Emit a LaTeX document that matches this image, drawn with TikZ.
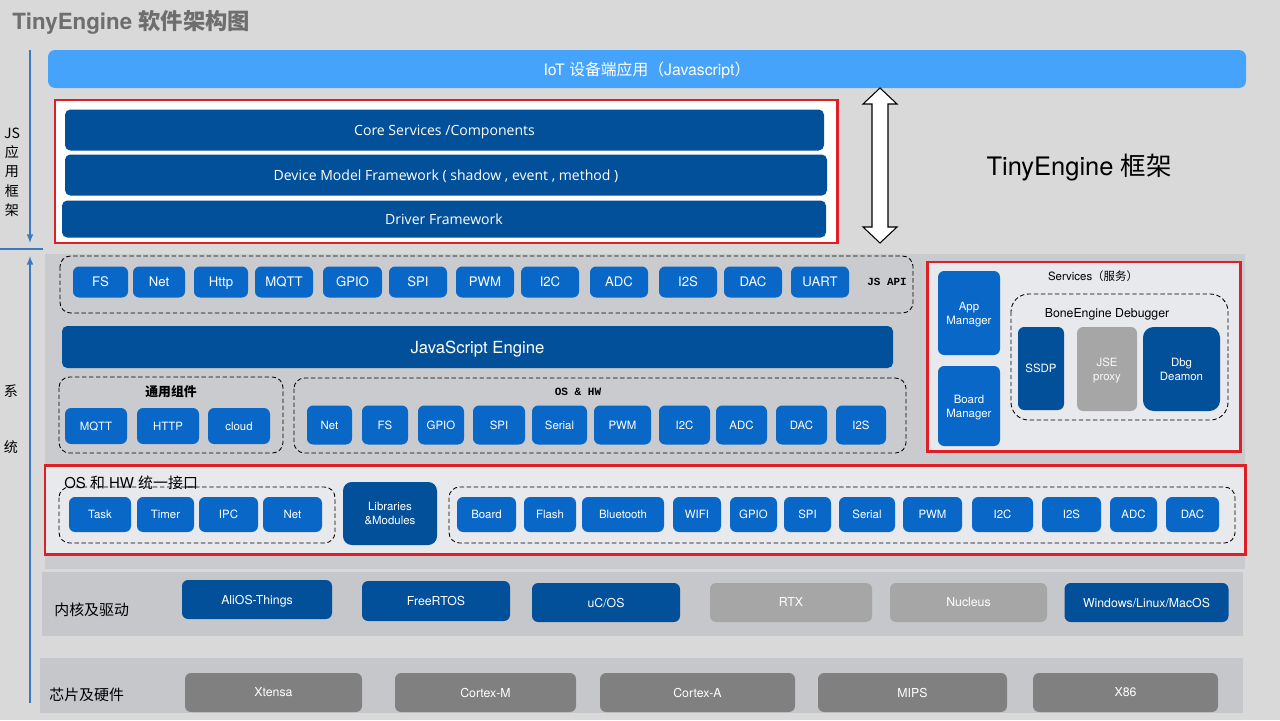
\documentclass[tikz,border=0pt]{standalone}
\usepackage{fontspec}
\setmainfont{TeX Gyre Heros}
\setmonofont{Liberation Mono}
\newfontfamily\cjk{Noto Sans CJK SC}
\newfontfamily\opensans{Open Sans}
\definecolor{bggray}{HTML}{D9D9D9}
\definecolor{panelgray}{HTML}{CACBCF}
\definecolor{lightpanel}{HTML}{E8E9ED}
\definecolor{bandgray}{HTML}{C6C7CB}
\definecolor{redline}{HTML}{DF1F26}
\definecolor{iotblue}{HTML}{45A3FB}
\definecolor{darkblue}{HTML}{03509A}
\definecolor{btnblue}{HTML}{0967C8}
\definecolor{lightgrey}{HTML}{A6A6A6}
\definecolor{darkgrey}{HTML}{808080}
\definecolor{arrowblue}{HTML}{3B7AC0}
\definecolor{titlegray}{HTML}{6E6E6E}
\begin{document}
\begin{tikzpicture}[x=0.02cm, y=-0.02cm,
    sz/.style 2 args={minimum width={(#1)*0.02cm}, minimum height={(#2)*0.02cm}},
    bar/.style={fill=darkblue, rounded corners=3pt, inner sep=0pt, text=white, text depth=0pt,
        font=\opensans\fontsize{8}{10}\selectfont},
    btn/.style={fill=btnblue, rounded corners=3.5pt, inner sep=0pt, text=white, text depth=0pt, align=center},
    small/.style={font=\fontsize{6.5}{8}\selectfont},
    redbox/.style={draw=redline, line width=1.7pt},
    groupbox/.style={draw=black, dash pattern=on 2.5pt off 1.5pt, line width=0.5pt, rounded corners=6pt},
    layerlabel/.style={font=\cjk\fontsize{8.5}{10}\selectfont, anchor=west, inner sep=0pt}]
    %背景与边界
    \fill[bggray] (0,0) rectangle (1280,720);
    \useasboundingbox (0,0) rectangle (1280,720);
    \fill[panelgray] (45,254) rectangle (1245,569);
    \fill[bandgray] (42,572) rectangle (1243,636);
    \fill[bandgray] (40,658) rectangle (1243,713);

    %标题
    \node[anchor=base west, inner sep=0pt, text=titlegray, font=\fontsize{12.7}{14}\selectfont\bfseries] (title) at (12,30)
        {TinyEngine {\cjk\bfseries 软件架构图}};

    %左侧的层次箭头
    \coordinate (jsTop) at (30,50);
    \coordinate (jsBot) at (30,243);
    \coordinate (sepL) at (0,249);
    \coordinate (sepR) at (43,249);
    \coordinate (sysBot) at (30,703);
    \coordinate (sysTop) at (30,256);
    \draw[arrowblue, line width=0.7pt, -latex] (jsTop) -- (jsBot);
    \draw[arrowblue, line width=1.2pt] (sepL) -- (sepR);
    \draw[arrowblue, line width=0.7pt, -latex] (sysBot) -- (sysTop);
    \node[align=center, font=\cjk\fontsize{8}{11}\selectfont] (jslabel) at (12,172) {JS\\应\\用\\框\\架};
    \node[font=\cjk\fontsize{8}{10}\selectfont] (xi) at (11,391) {系};
    \node[font=\cjk\fontsize{8}{10}\selectfont] (tong) at (11,447) {统};

    %应用层与 JS 框架
    \node[fill=iotblue, rounded corners=4pt, inner sep=0pt, text=white, text depth=0pt, sz={1198}{38},
        font=\fontsize{9}{10}\selectfont] (iot) at (647,69)
        {IoT {\cjk 设备端应用（}Javascript{\cjk ）}};
    \draw[redbox, fill=white] (55,100) rectangle (837,243);
    \node[bar, sz={759}{41}] (core) at (444.5,130) {Core Services /Components};
    \node[bar, sz={762}{41}] (dmf) at (446,175) {Device Model Framework ( shadow , event , method )};
    \node[bar, sz={764}{37}] (drv) at (444,219) {Driver Framework};

    %双向箭头
    \coordinate (dTop) at (880,88);
    \coordinate (dBot) at (880,243);
    \filldraw[fill=white, draw=black, line width=0.6pt] (dTop) -- (897,104) -- (888,104) -- (888,227)
        -- (897,227) -- (dBot) -- (863,227) -- (872,227) -- (872,104) -- (863,104) -- cycle;
    \node[font=\fontsize{14.5}{16}\selectfont] (tef) at (1079,168) {TinyEngine {\cjk 框架}};

    %JS API
    \draw[groupbox] (60,256) rectangle (913,313);
    \foreach \t/\a/\b [count=\i] in {FS/73/128, Net/133/185, Http/194/248, MQTT/255/313, GPIO/323/382,
        SPI/389/447, PWM/456/514, I2C/521/579, ADC/590/648, I2S/659/717, DAC/724/782, UART/791/849}
        \node[btn, font=\fontsize{7.5}{9}\selectfont, sz={\b-\a}{31}] (api\i) at ({(\a+\b)/2},282) {\t};
    \node[font=\ttfamily\bfseries\fontsize{6.2}{7}\selectfont] (jsapi) at (887,282) {JS API};

    %JavaScript 引擎
    \node[bar, sz={831}{42}, font=\fontsize{9.5}{11}\selectfont] (jse) at (477.5,347) {JavaScript Engine};

    %通用组件
    \draw[groupbox] (59,377) rectangle (283,453);
    \node[font=\cjk\bfseries\fontsize{7.3}{9}\selectfont] (common) at (171,392) {通用组件};
    \foreach \t/\a/\b [count=\i] in {MQTT/65/127, HTTP/137/199, cloud/208/270}
        \node[btn, small, sz={\b-\a}{36}] (com\i) at ({(\a+\b)/2},426) {\t};

    %OS & HW
    \draw[groupbox] (294,378) rectangle (906,453);
    \node[font=\ttfamily\bfseries\fontsize{6.3}{7}\selectfont] (oshw) at (578,392) {OS \& HW};
    \foreach \t/\a/\b [count=\i] in {Net/307/352, FS/362/408, GPIO/418/464, SPI/473/525, Serial/532/587,
        PWM/594/651, I2C/659/710, ADC/716/767, DAC/776/827, I2S/836/886}
        \node[btn, small, sz={\b-\a}{39}] (hw\i) at ({(\a+\b)/2},425) {\t};

    %服务
    \draw[redbox, fill=lightpanel] (927,262) rectangle (1240,451);
    \node[font=\fontsize{6.5}{8}\selectfont] (services) at (1093,276) {Services{\cjk （服务）}};
    \node[btn, small, sz={62}{84}] (appmgr) at (969,313) {App\\Manager};
    \node[btn, small, sz={62}{80}] (boardmgr) at (969,406) {Board\\Manager};
    \draw[groupbox, rounded corners=10pt] (1011,294) rectangle (1228,420);
    \node[font=\fontsize{7}{8}\selectfont] (debugger) at (1107,314) {BoneEngine Debugger};
    \node[btn, small, fill=darkblue, sz={46}{83}] (ssdp) at (1041,368.5) {SSDP};
    \node[btn, small, fill=lightgrey, text=white!92!lightgrey, sz={60}{84}] (jsep) at (1107,369) {JSE\\proxy};
    \node[btn, small, fill=darkblue, rounded corners=6pt, sz={77}{84}] (dbg) at (1181.5,369) {Dbg\\Deamon};

    %OS 和 HW 统一接口
    \draw[redbox, fill=lightpanel] (45,465) rectangle (1245,554);
    \draw[groupbox] (59,487) rectangle (335,543);
    \node[anchor=base west, inner sep=0pt, font=\fontsize{8.5}{9}\selectfont] (unified) at (64,488)
        {OS {\cjk 和} HW {\cjk 统一接口}};
    \foreach \t/\a/\b [count=\i] in {Task/69/131, Timer/137/194, IPC/199/258, Net/263/322}
        \node[btn, small, sz={\b-\a}{35}] (os\i) at ({(\a+\b)/2},514.5) {\t};
    \node[btn, small, fill=darkblue, rounded corners=5pt, sz={94}{63}] (libs) at (390,513.5) {Libraries\\\&Modules};
    \draw[groupbox] (449,487) rectangle (1235,543);
    \foreach \t/\a/\b [count=\i] in {Board/457/516, Flash/524/576, Bluetooth/582/664, WIFI/673/721,
        GPIO/730/777, SPI/784/831, Serial/839/895, PWM/903/962, I2C/972/1033, I2S/1042/1101,
        ADC/1110/1157, DAC/1166/1219}
        \node[btn, small, sz={\b-\a}{35}] (dev\i) at ({(\a+\b)/2},514.5) {\t};

    %内核及驱动
    \node[layerlabel] (kernel) at (54,610) {内核及驱动};
    \node[btn, fill=darkblue, font=\fontsize{7}{8}\selectfont, sz={150}{39}] (alios) at (257,599.5) {AliOS-Things};
    \node[btn, fill=darkblue, font=\fontsize{7}{8}\selectfont, sz={148}{40}] (freertos) at (436,601) {FreeRTOS};
    \node[btn, fill=darkblue, font=\fontsize{7}{8}\selectfont, sz={148}{39}] (ucos) at (606,602.5) {uC/OS};
    \node[btn, fill=lightgrey, font=\fontsize{7}{8}\selectfont, sz={162}{39}] (rtx) at (791,602.5) {RTX};
    \node[btn, fill=lightgrey, font=\fontsize{7}{8}\selectfont, sz={157}{39}] (nucleus) at (968.5,602.5) {Nucleus};
    \node[btn, fill=darkblue, font=\fontsize{7}{8}\selectfont, sz={164}{39}] (desktop) at (1146.5,602.5) {Windows/Linux/MacOS};

    %芯片及硬件
    \node[layerlabel] (chip) at (49,695) {芯片及硬件};
    \foreach \t/\a/\b [count=\i] in {Xtensa/185/362, Cortex-M/395/576, Cortex-A/600/795, MIPS/818/1007, X86/1033/1218}
        \node[btn, fill=darkgrey, font=\fontsize{7}{8}\selectfont, sz={\b-\a}{39}] (cpu\i) at ({(\a+\b)/2},692.5) {\t};
\end{tikzpicture}
\end{document}
